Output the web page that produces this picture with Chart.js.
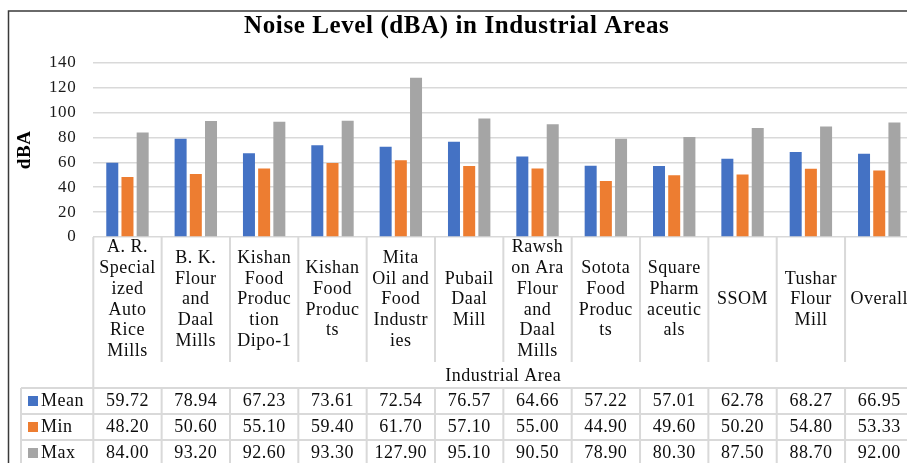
<!DOCTYPE html>
<html>
<head>
<meta charset="utf-8">
<script src="https://cdn.jsdelivr.net/npm/chart.js@4.4.1/dist/chart.umd.min.js"></script>
<style>
    html, body { margin: 0; padding: 0; background: #fff; overflow: hidden; }
    #wrap { width: 907px; height: 463px; overflow: hidden; }
</style>
</head>
<body>
<div id="wrap"><canvas id="noiseChart" width="915" height="463"></canvas></div>
<script>
// Category labels, wrapped the way they show in the table cells
const categories = [
    ['A. R.', 'Special', 'ized', 'Auto', 'Rice', 'Mills'],
    ['B. K.', 'Flour', 'and', 'Daal', 'Mills'],
    ['Kishan', 'Food', 'Produc', 'tion', 'Dipo-1'],
    ['Kishan', 'Food', 'Produc', 'ts'],
    ['Mita', 'Oil and', 'Food', 'Industr', 'ies'],
    ['Pubail', 'Daal', 'Mill'],
    ['Rawsh', 'on Ara', 'Flour', 'and', 'Daal', 'Mills'],
    ['Sotota', 'Food', 'Produc', 'ts'],
    ['Square', 'Pharm', 'aceutic', 'als'],
    ['SSOM'],
    ['Tushar', 'Flour', 'Mill'],
    ['Overall']
];
const meanValues = [59.72, 78.94, 67.23, 73.61, 72.54, 76.57, 64.66, 57.22, 57.01, 62.78, 68.27, 66.95];
const minValues  = [48.20, 50.60, 55.10, 59.40, 61.70, 57.10, 55.00, 44.90, 49.60, 50.20, 54.80, 53.33];
const maxValues  = [84.00, 93.20, 92.60, 93.30, 127.90, 95.10, 90.50, 78.90, 80.30, 87.50, 88.70, 92.00];
const seriesNames = ['Mean', 'Min', 'Max'];
const yMax = 140;
const yStep = 20;

const seriesColors = ['#4472C4', '#ED7D31', '#A5A5A5'];
const SERIF = '"Liberation Serif", "Times New Roman", serif';
const GRID = '#d9d9d9';
const TEXT = '#0d0d0d';

// label band + data table under the plot (px from top of canvas)
const labelBandBottom = 362;
const axisTitleY = 376;
const tableTop = 388;
const rowHeight = 26;
const tableLeft = 21;
const labelLineH = 20.7;

const dataTablePlugin = {
    id: 'dataTable',
    beforeDraw(chart) {
        // the reference text is set a bit wide
        chart.ctx.letterSpacing = '0.6px';
    },
    afterDraw(chart) {
        const { ctx, chartArea } = chart;
        const x = chart.scales.x;
        const step = x.getPixelForValue(1) - x.getPixelForValue(0);
        const bottom = chartArea.bottom;
        const H = chart.height;

        ctx.save();
        // outer frame (only top and left are visible)
        ctx.strokeStyle = '#3a3a3a';
        ctx.lineWidth = 1.5;
        ctx.beginPath();
        ctx.moveTo(8.5, H);
        ctx.lineTo(8.5, 11);
        ctx.lineTo(chart.width, 11);
        ctx.stroke();

        // cell borders
        ctx.strokeStyle = GRID;
        ctx.lineWidth = 2;
        ctx.beginPath();
        ctx.moveTo(chartArea.left, bottom);
        ctx.lineTo(chartArea.left, H);
        for (let i = 0; i < categories.length; i++) {
            const xr = x.getPixelForValue(i) + step / 2;
            ctx.moveTo(xr, bottom);
            ctx.lineTo(xr, labelBandBottom);
            ctx.moveTo(xr, tableTop);
            ctx.lineTo(xr, H);
        }
        for (let r = 0; r <= seriesNames.length; r++) {
            const y = tableTop + r * rowHeight;
            ctx.moveTo(tableLeft, y);
            ctx.lineTo(chartArea.right, y);
        }
        ctx.moveTo(tableLeft, tableTop);
        ctx.lineTo(tableLeft, H);
        ctx.stroke();

        // category labels, centred in their cells
        ctx.fillStyle = TEXT;
        ctx.font = '18px ' + SERIF;
        ctx.letterSpacing = '0.5px';
        ctx.textAlign = 'center';
        ctx.textBaseline = 'middle';
        const mid = (bottom + labelBandBottom) / 2;
        categories.forEach((lines, i) => {
            const cx = x.getPixelForValue(i);
            const y0 = mid - (lines.length - 1) * labelLineH / 2;
            lines.forEach((t, k) => ctx.fillText(t, cx, y0 + k * labelLineH));
        });
        ctx.fillText('Industrial Area', (chartArea.left + chartArea.right) / 2, axisTitleY);

        // data table rows
        const rows = [meanValues, minValues, maxValues];
        rows.forEach((vals, r) => {
            const cy = tableTop + r * rowHeight + rowHeight / 2;
            ctx.textAlign = 'center';
            ctx.fillStyle = TEXT;
            vals.forEach((v, i) => ctx.fillText(v.toFixed(2), x.getPixelForValue(i), cy));
            ctx.fillStyle = seriesColors[r];
            ctx.fillRect(28, cy - 5, 10, 10);
            ctx.fillStyle = TEXT;
            ctx.textAlign = 'left';
            ctx.fillText(seriesNames[r], 41, cy);
        });
        ctx.restore();
    }
};

new Chart(document.getElementById('noiseChart'), {
    type: 'bar',
    data: {
        labels: categories,
        datasets: [
            { label: seriesNames[0], data: meanValues, backgroundColor: seriesColors[0] },
            { label: seriesNames[1], data: minValues, backgroundColor: seriesColors[1] },
            { label: seriesNames[2], data: maxValues, backgroundColor: seriesColors[2] }
        ]
    },
    options: {
        responsive: false,
        animation: false,
        devicePixelRatio: 1,
        categoryPercentage: 0.667,
        barPercentage: 0.79,
        layout: { padding: { left: 0, right: 1.6, top: 0, bottom: 0 } },
        plugins: {
            legend: { display: false },
            tooltip: { enabled: false },
            title: {
                display: true,
                text: 'Noise Level (dBA) in Industrial Areas',
                color: '#000',
                font: { family: SERIF, size: 25, weight: 'bold' },
                padding: { top: 12, bottom: 20.7 }
            }
        },
        scales: {
            x: {
                grid: { display: false },
                border: { display: false },
                ticks: { display: false },
                afterFit: s => { s.height = 226; }
            },
            y: {
                min: 0,
                max: yMax,
                ticks: {
                    stepSize: yStep,
                    color: '#1a1a1a',
                    padding: 17,
                    font: { family: SERIF, size: 17 }
                },
                grid: { color: GRID, lineWidth: 1.5, drawTicks: false },
                border: { display: false },
                title: {
                    display: true,
                    text: 'dBA',
                    color: '#000',
                    font: { family: SERIF, size: 19, weight: 'bold' },
                    padding: { top: 14, bottom: 0 }
                },
                afterFit: s => { s.width = 93.3; }
            }
        }
    },
    plugins: [dataTablePlugin]
});
</script>
</body>
</html>
